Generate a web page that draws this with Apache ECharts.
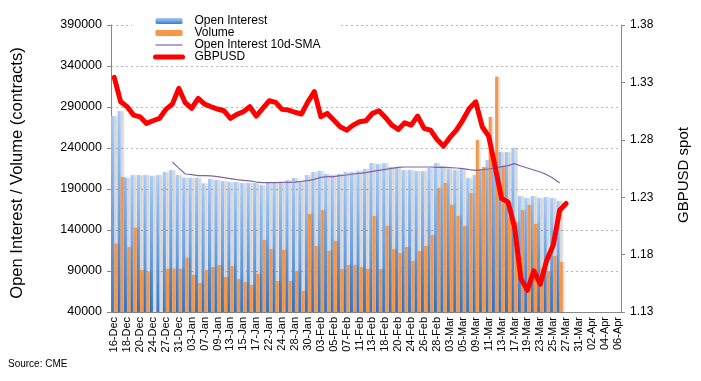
<!DOCTYPE html>
<html><head><meta charset="utf-8">
<script src="https://cdn.jsdelivr.net/npm/echarts@6/dist/echarts.min.js"></script>
<style>html,body{margin:0;padding:0;background:#fff}#c{width:701px;height:381px}</style>
</head><body><div id="c"></div>
<script>
const categories = [
 '16-Dec','17-Dec','18-Dec','19-Dec','20-Dec','23-Dec','24-Dec','26-Dec','27-Dec','30-Dec','31-Dec',
 '02-Jan','03-Jan','06-Jan','07-Jan','08-Jan','09-Jan','10-Jan','13-Jan','14-Jan','15-Jan','16-Jan','17-Jan','21-Jan','22-Jan','23-Jan','24-Jan','27-Jan','28-Jan','29-Jan','30-Jan','31-Jan',
 '03-Feb','04-Feb','05-Feb','06-Feb','07-Feb','10-Feb','11-Feb','12-Feb','13-Feb','14-Feb','18-Feb','19-Feb','20-Feb','21-Feb','24-Feb','25-Feb','26-Feb','27-Feb','28-Feb',
 '02-Mar','03-Mar','04-Mar','05-Mar','06-Mar','09-Mar','10-Mar','11-Mar','12-Mar','13-Mar','16-Mar','17-Mar','18-Mar','19-Mar','20-Mar','23-Mar','24-Mar','25-Mar','26-Mar','27-Mar','30-Mar','31-Mar',
 '01-Apr','02-Apr','03-Apr','04-Apr','05-Apr','06-Apr'
];
const openInterest = [
 279000,285000,204000,207000,207000,207000,206000,207000,210700,213200,
 207000,203800,203800,203800,196900,202200,201000,199800,198500,198500,
 197300,197300,197300,194900,197300,197300,197300,201000,203400,198500,
 207000,210700,212000,208300,207000,208300,210700,210700,212000,214400,
 221700,220500,221700,216800,216800,213200,213200,212000,212000,215600,
 221700,218000,214400,213200,214400,203400,207000,214000,225400,224000,
 235100,235100,240400,181500,179000,181500,179000,180200,179000,175400
];
const volume = [
 123300,204600,119300,142800,91200,89200,null,null,92800,92800,
 92800,106300,85100,75400,91200,94900,97300,82700,96100,80300,
 76600,73000,86400,127800,116800,77800,115600,77800,90000,65600,
 159500,120500,164400,114400,126600,92400,97300,97300,94900,92400,
 157100,92400,144900,116800,111900,119300,102200,114400,120500,133900,
 191200,197300,170500,157100,144900,185100,249800,216800,277800,327000,
 218000,155800,150000,164400,170500,147300,93700,90000,108300,101000
];
const oiSma10 = [
 null,null,null,null,null,null,null,null,null,222900,
 215400,208300,207500,206300,206300,205900,205000,203800,202600,201400,
 200600,199800,198500,197700,197700,197700,198100,198100,198500,199300,
 200200,201800,204200,205000,205000,206300,207100,208300,209100,209900,
 211500,212800,214000,215200,216400,216800,216800,216800,216800,216800,
 216400,216400,216000,215600,214800,213600,212800,213600,214400,215600,
 217200,218500,220900,218000,215600,213200,210700,207500,203000,197300
];
const gbpusd = [
 1.3344,1.3131,1.3088,1.3015,1.3000,1.2943,1.2966,1.2986,1.3065,1.3111,
 1.3248,1.3123,1.3073,1.3161,1.3111,1.3088,1.3068,1.3053,1.2986,1.3021,
 1.3044,1.3088,1.3007,1.3073,1.3140,1.3126,1.3065,1.3059,1.3040,1.3024,
 1.3131,1.3219,1.3001,1.3030,1.2972,1.2914,1.2884,1.2928,1.2957,1.2966,
 1.3030,1.3053,1.2995,1.2928,1.2890,1.2948,1.2928,1.3007,1.2899,1.2884,
 1.2803,1.2745,1.2821,1.2884,1.2972,1.3073,1.3131,1.2914,1.2832,1.2565,
 1.2289,1.2259,1.2041,1.1591,1.1489,1.1658,1.1542,1.1751,1.1882,1.2187,
 1.2245
];
const leftTicks = [40000,90000,140000,190000,240000,290000,340000,390000];
const rightTicks = [1.13,1.18,1.23,1.28,1.33,1.38];

const FONT = "'Liberation Sans', Arial, Helvetica, sans-serif";
const chart = echarts.init(document.getElementById('c'), null, {renderer:'canvas'});
const blueGrad = new echarts.graphic.LinearGradient(0,0,0,1,[{offset:0,color:'#a9cbf8'},{offset:1,color:'#3a7dcd'}]);
const noSym = {color:'rgba(0,0,0,0)',borderColor:'rgba(0,0,0,0)',borderWidth:0};
chart.setOption({
  animation:false,
  textStyle:{fontFamily:FONT},
  grid:{left:111,right:80,top:25,bottom:69},
  legend:{
    orient:'vertical', left:132, top:13, padding:[2,20,0,21], itemGap:0,
    backgroundColor:'#fff', itemWidth:27, itemHeight:6,
    textStyle:{fontSize:12, color:'#000', lineHeight:12, padding:[0,0,0,7], fontFamily:FONT},
    data:['Open Interest','Volume',
      {name:'Open Interest 10d-SMA',itemStyle:noSym,lineStyle:{width:1.2,color:'#8064a2'}},
      {name:'GBPUSD',itemStyle:noSym,lineStyle:{width:5,color:'#ff0000',cap:'round'}}]
  },
  xAxis:{
    type:'category', data:categories, boundaryGap:true,
    axisLine:{lineStyle:{color:'#888',width:1}},
    axisTick:{interval:1,length:4,lineStyle:{color:'#888'}},
    axisLabel:{interval:1,rotate:90,fontSize:11,color:'#000',margin:5,fontFamily:FONT}
  },
  yAxis:[{
    type:'value', min:leftTicks[0], max:leftTicks[leftTicks.length-1], interval:leftTicks[1]-leftTicks[0],
    axisLine:{show:true,lineStyle:{color:'#888'}},
    axisTick:{show:true,length:4,lineStyle:{color:'#888'}},
    axisLabel:{fontSize:12.5,color:'#000',margin:9,fontFamily:FONT,formatter:v=>String(Math.round(v))},
    splitLine:{show:true,lineStyle:{color:'#b5b5b5',type:[2,3],width:1}}
  },{
    type:'value', min:rightTicks[0], max:rightTicks[rightTicks.length-1], interval:0.05,
    axisLine:{show:true,lineStyle:{color:'#888'}},
    axisTick:{show:true,length:4,lineStyle:{color:'#888'}},
    axisLabel:{fontSize:12,color:'#000',margin:9,fontFamily:FONT,formatter:v=>v.toFixed(2)},
    splitLine:{show:false}
  }],
  series:[
    {name:'Open Interest',type:'bar',data:openInterest,barGap:'0%',barCategoryGap:'4%',
     itemStyle:{color:blueGrad,shadowColor:'rgba(0,0,0,0.18)',shadowBlur:2,shadowOffsetX:3}},
    {name:'Volume',type:'bar',data:volume,
     itemStyle:{color:'#f79646',shadowColor:'rgba(0,0,0,0.12)',shadowBlur:2,shadowOffsetX:2}},
    {name:'Open Interest 10d-SMA',type:'line',data:oiSma10,symbol:'none',
     lineStyle:{color:'#8064a2',width:1.2},itemStyle:{color:'#8064a2'},z:3},
    {name:'GBPUSD',type:'line',yAxisIndex:1,data:gbpusd,symbol:'none',
     lineStyle:{color:'#ff0000',width:5,cap:'round',join:'round'},itemStyle:{color:'#ff0000'},z:4}
  ],
  graphic:[
    {type:'text',x:17,y:173,rotation:Math.PI/2,style:{text:'Open Interest / Volume (contracts)',fontSize:16.5,fontFamily:FONT,fill:'#000',align:'center',verticalAlign:'middle'}},
    {type:'text',x:684,y:175,rotation:Math.PI/2,style:{text:'GBPUSD spot',fontSize:15,fontFamily:FONT,fill:'#000',align:'center',verticalAlign:'middle'}},
    {type:'text',x:8,y:364,style:{text:'Source: CME',fontSize:10,fontFamily:FONT,fill:'#000',align:'left',verticalAlign:'middle'}}
  ]
});
</script>
</body></html>
